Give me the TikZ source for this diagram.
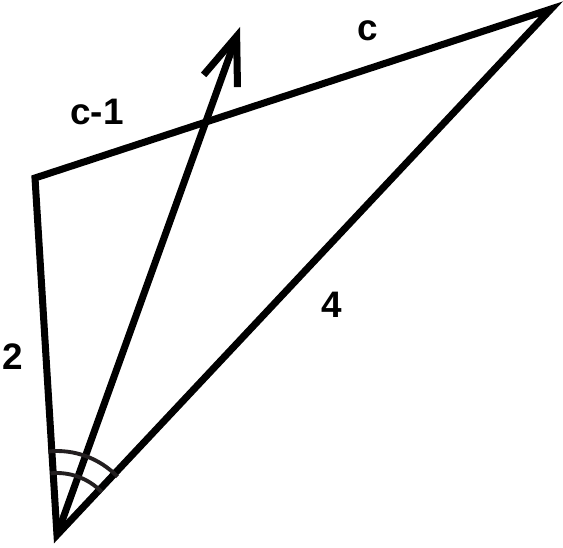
\documentclass[tikz,border=0pt]{standalone}
\usepackage{fontspec}
\setmainfont{Liberation Sans}
\usetikzlibrary{arrows.meta}

\tikzset{
  side/.style={line width=4pt, line join=miter},
  anglearc/.style={line width=2.2pt, draw=arcgray},
  lbl/.style={font=\fontsize{21}{21}\selectfont\bfseries}
}
\definecolor{arcgray}{HTML}{231F20}

\begin{document}
\begin{tikzpicture}[x=0.02cm,y=-0.02cm]
\useasboundingbox (0,0) rectangle (563,547);

\coordinate (B) at (57,535);
\coordinate (L) at (35,178);
\coordinate (R) at (551,9);
\coordinate (T) at (240,27);

% triangle
\draw[side] (B) -- (L) -- (R) -- cycle;

% arrow
\draw[side,-{Straight Barb[length=0.95cm,width=0.72cm,line width=4pt]}] (B) -- (T);

% angle marks
\draw[anglearc] (B) ++(-44:62) arc[start angle=44,end angle=96,radius=1.24cm];
\draw[anglearc] (B) ++(-44:84) arc[start angle=44,end angle=96,radius=1.68cm];

\node[lbl] (c1) at (97,112) {c-1};
\node[lbl] (c) at (368,31) {c};
\node[lbl] (two) at (13,357) {2};
\node[lbl] (four) at (332,305) {4};

\end{tikzpicture}
\end{document}
